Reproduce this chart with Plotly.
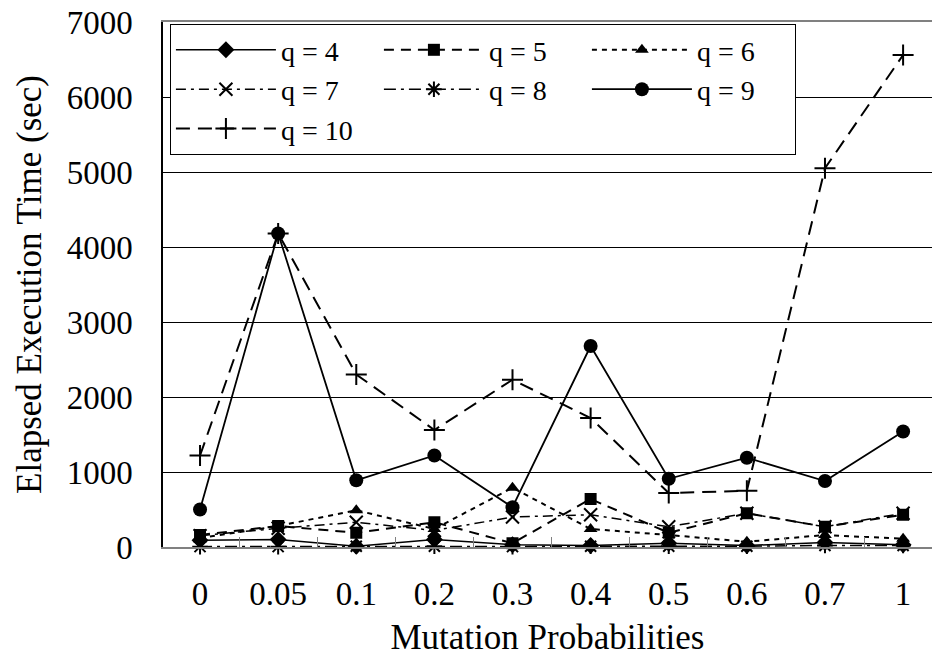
import plotly.graph_objects as go

categories = ["0", "0.05", "0.1", "0.2", "0.3", "0.4", "0.5", "0.6", "0.7", "1"]

q4 = [90, 100, 10, 100, 30, 20, 50, 20, 60, 30]
q5 = [160, 280, 190, 330, 50, 640, 190, 450, 270, 430]
q6 = [120, 280, 490, 240, 790, 240, 160, 70, 160, 110]
q7 = [150, 250, 330, 220, 400, 430, 270, 450, 270, 450]
q8 = [5, 5, 10, 10, 5, 10, 10, 10, 20, 20]
q9 = [500, 4180, 890, 1220, 530, 2680, 910, 1190, 880, 1540]
q10 = [1220, 4180, 2300, 1560, 2230, 1720, 720, 750, 5050, 6560]

series_names = ["q = 4", "q = 5", "q = 6", "q = 7", "q = 8", "q = 9", "q = 10"]
series_values = [q4, q5, q6, q7, q8, q9, q10]

styles = [
    dict(symbol="diamond", size=13, dash="solid", lw=1.5, mlw=0),
    dict(symbol="square", size=12, dash="10px,7px", lw=2, mlw=0),
    dict(symbol="triangle-up", size=12, dash="5px,5px", lw=2, mlw=0),
    dict(symbol="x-thin", size=13, dash="10px,5px,3px,5px", lw=1.5, mlw=2),
    dict(symbol="asterisk", size=13, dash="12px,5px,3px,5px", lw=1.5, mlw=2),
    dict(symbol="circle", size=14, dash="solid", lw=1.8, mlw=0),
    dict(symbol="cross-thin", size=15, dash="14px,8px", lw=2, mlw=2),
]

FONT = "Liberation Serif"

fig = go.Figure()
for name, vals, st in zip(series_names, series_values, styles):
    fig.add_trace(go.Scatter(
        x=categories, y=vals, name=name, mode="lines+markers",
        line=dict(color="black", width=st["lw"], dash=st["dash"]),
        marker=dict(symbol=st["symbol"], size=st["size"], color="black",
                    line=dict(color="black", width=st["mlw"])),
        cliponaxis=False,
    ))

fig.update_layout(
    width=932, height=657,
    margin=dict(l=163, r=0, t=22, b=110),
    paper_bgcolor="white", plot_bgcolor="white",
    font=dict(family=FONT, size=33, color="black"),
    showlegend=True,
    legend=dict(
        orientation="h", x=0.009, y=0.996, xanchor="left", yanchor="top",
        bgcolor="white", bordercolor="black", borderwidth=1,
        font=dict(family=FONT, size=28, color="black"),
        itemwidth=100, entrywidth=93, entrywidthmode="pixels",
        traceorder="normal",
    ),
    xaxis=dict(
        type="category", range=[-0.474, 9.37],
        showline=True, linecolor="#808080", linewidth=2, mirror=True,
        ticks="inside", tickson="boundaries", ticklen=10, tickcolor="#808080",
        tickwidth=1, showgrid=False, ticklabelstandoff=16,
        tickfont=dict(family=FONT, size=33, color="black"),
        title=dict(text="Mutation Probabilities", font=dict(family=FONT, size=35, color="black"), standoff=16),
    ),
    yaxis=dict(
        range=[0, 7000], dtick=1000, tick0=0,
        showline=True, linecolor="black", linewidth=1.5,
        showgrid=True, gridcolor="black", gridwidth=1, zeroline=False,
        ticks="", ticklabelstandoff=22,
        tickfont=dict(family=FONT, size=33, color="black"),
        title=dict(text="Elapsed Execution Time (sec)", font=dict(family=FONT, size=35, color="black"), standoff=14),
    ),
)

fig.write_html("out.html")
